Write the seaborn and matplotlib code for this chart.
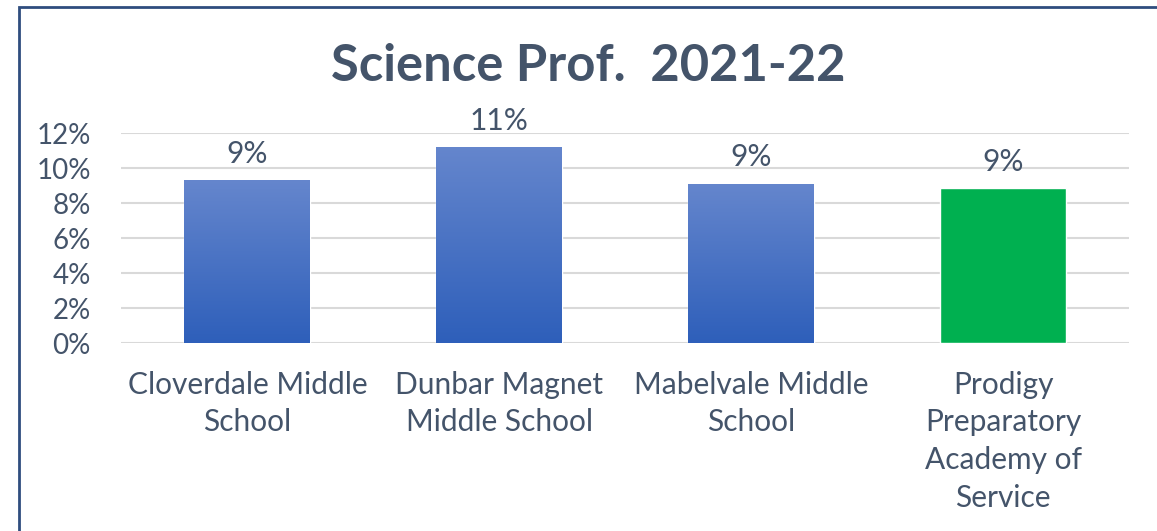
import numpy as np
import pandas as pd
import matplotlib
matplotlib.use("Agg")
import matplotlib.pyplot as plt
import seaborn as sns
from matplotlib.patches import Rectangle
from matplotlib.colors import LinearSegmentedColormap

schools = ["Cloverdale Middle School", "Dunbar Magnet Middle School",
           "Mabelvale Middle School", "Prodigy Preparatory Academy of Service"]
tick_labels = ["Cloverdale Middle\nSchool", "Dunbar Magnet\nMiddle School",
               "Mabelvale Middle\nSchool", "Prodigy\nPreparatory\nAcademy of\nService"]
science_prof = [0.093, 0.112, 0.091, 0.0885]
data_labels = ["9%", "11%", "9%", "9%"]

df = pd.DataFrame({"School": schools, "Prof": science_prof})

sns.set_style("white")
plt.rcParams["font.family"] = ["Lato", "DejaVu Sans"]

text_col = "#44546a"
palette = {schools[0]: "#4472c4", schools[1]: "#4472c4",
           schools[2]: "#4472c4", schools[3]: "#00b050"}

fig = plt.figure(figsize=(11.57, 5.31), dpi=100)
ax = fig.add_axes([0.105, 0.354, 0.871, 0.3955])

sns.barplot(data=df, x="School", y="Prof", hue="School", palette=palette,
            width=0.5, saturation=1, legend=False, ax=ax, zorder=3)

ax.set_ylim(0, 0.12)
ax.set_xlim(-0.5, 3.5)
ax.set_yticks(np.arange(0, 0.121, 0.02))
ax.set_yticklabels([f"{int(round(v*100))}%" for v in np.arange(0, 0.121, 0.02)])
ax.set_xticks(range(len(schools)))
ax.set_xticklabels(tick_labels, linespacing=1.42)
ax.tick_params(axis="y", labelsize=20, colors=text_col, pad=22, length=0)
ax.tick_params(axis="x", labelsize=21.5, colors=text_col, pad=20, length=0)
ax.set_xlabel("")
ax.set_ylabel("")
for s in ax.spines.values():
    s.set_visible(False)
ax.yaxis.grid(True, color="#d9d9d9", linewidth=1.5, zorder=0)
ax.set_axisbelow(True)

# gradient fill on the blue bars
grad = LinearSegmentedColormap.from_list("g", ["#2e5fba", "#6586cd"])
for i, p in enumerate(ax.patches[:3]):
    x0, w, h = p.get_x(), p.get_width(), p.get_height()
    p.set_facecolor("none")
    im = ax.imshow(np.linspace(0, 1, 256).reshape(-1, 1), cmap=grad, origin="lower",
                   extent=[x0, x0 + w, 0, h], aspect="auto", zorder=3)
    im.set_clip_path(p)

for i, (v, lab) in enumerate(zip(science_prof, data_labels)):
    ax.annotate(lab, (i, v), xytext=(0, 9), textcoords="offset points",
                ha="center", va="bottom", fontsize=21.5, color=text_col)

ax.set_xlim(-0.5, 3.5)
ax.set_ylim(0, 0.12)

fig.text(0.508, 0.874, "Science Prof.  2021-22", ha="center", va="center",
         fontsize=36.5, fontweight="bold", color=text_col)

# chart border
fig.patches.append(Rectangle((19 / 1157, -0.05), 1.2, 1 - 7 / 531 + 0.05,
                             transform=fig.transFigure, fill=False,
                             edgecolor="#2f4d7e", linewidth=2))

fig.savefig("out.png", dpi=100)
